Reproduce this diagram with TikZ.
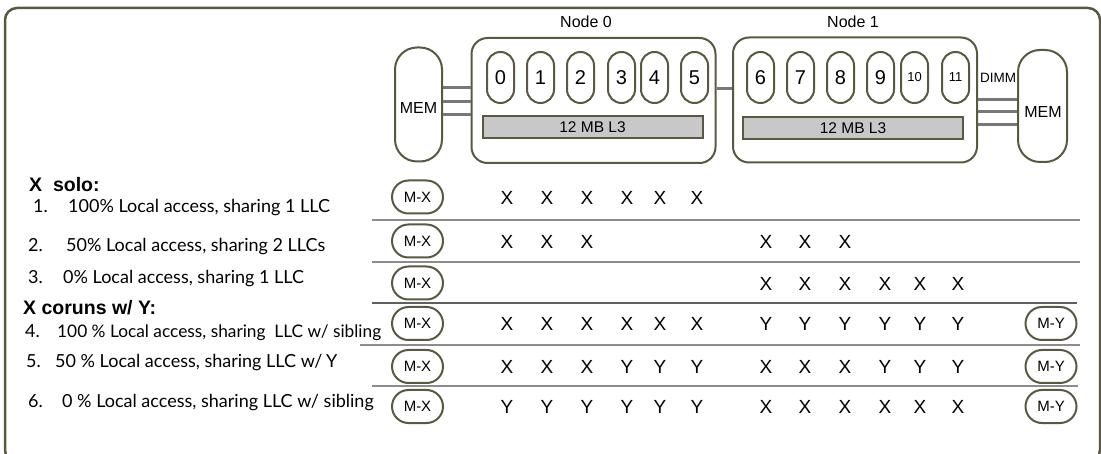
\documentclass[tikz,border=0pt]{standalone}
\usepackage{fontspec}
\setmainfont{Liberation Sans}
\newfontfamily\listfont{Lato}
\definecolor{frameol}{RGB}{90,88,66}
\definecolor{llcgray}{RGB}{200,200,200}
\definecolor{linkgray}{RGB}{120,120,120}
\definecolor{sepgray}{RGB}{140,140,140}
\definecolor{darksep}{RGB}{95,95,95}
\newcommand{\fsz}[1]{\fontsize{#1}{#1}\selectfont}
\tikzset{
  outline/.style={draw=frameol, line width=2pt},
  membox/.style={outline, rounded corners=22pt, minimum width=47pt, minimum height=114pt, inner sep=0pt},
  memtext/.style={inner sep=0pt, font=\fsz{16}},
  socket/.style={outline, rounded corners=16pt, minimum width=244pt, minimum height=125pt, inner sep=0pt},
  core/.style={outline, rounded corners=13.5pt, minimum width=27pt, minimum height=51pt, inner sep=0pt, font=\fsz{20}},
  smallcore/.style={core, font=\fsz{13}},
  llc/.style={draw=frameol, line width=2pt, fill=llcgray, minimum width=220pt, minimum height=22pt, inner sep=0pt, font=\fsz{15.5}},
  memlink/.style={draw=linkgray, line width=3pt},
  pill/.style={outline, rounded corners=16.5pt, minimum width=51pt, minimum height=33pt, inner sep=0pt, font=\fsz{15}},
  cell/.style={inner sep=0pt, font=\fsz{19}},
  rowsep/.style={draw=sepgray, line width=1.5pt},
  groupsep/.style={draw=darksep, line width=2.5pt},
  itemtext/.style={anchor=base west, inner sep=0pt, font=\listfont\fsz{18}},
  heading/.style={anchor=base west, inner sep=0pt, font=\bfseries\fsz{19.5}},
}
\begin{document}
\begin{tikzpicture}[x=1pt,y=-1pt]
\useasboundingbox (0,0) rectangle (1101,454);
% outer frame
\draw[draw=frameol, line width=2.5pt, rounded corners=12pt] (5,8) rectangle (1100,462);

% two sockets with their cores and shared L3
\node at (586,22) (lab0) {\fsz{16}Node 0};
\node at (853,22) (lab1) {\fsz{16}Node 1};
\node[socket] (n0) at (593.5,100.5) {};
\node[socket] (n1) at (855,100) {};
\foreach \x/\c in {500.5/0,540.5/1,580.5/2,621.5/3,654.5/4,694.5/5,760.5/6,800.5/7,840.5/8,880.5/9}
  \node[core] (core\c) at (\x,77.5) {\c};
\node[smallcore] (core10) at (914.5,77.5) {10};
\node[smallcore] (core11) at (955.5,77.5) {11};
\node[llc] (l3a) at (592.5,127.5) {12 MB L3};
\node[llc] (l3b) at (853,128.5) {12 MB L3};

% memories
\node[membox] (memL) at (418.5,104.5) {};
\node[memtext] (memLtext) at (418.5,108) {MEM};
\node[membox, minimum width=49pt, minimum height=112pt] (memR) at (1042.5,106) {};
\node[memtext] (memRtext) at (1043,112) {MEM};
\node[font=\fsz{13.5}] (dimm) at (998,78) {DIMM};

% memory channels and interconnect
\foreach \yy in {88,102,115}
  \draw[memlink] (memL.east |- 0,\yy) -- (n0.west |- 0,\yy);
\foreach \yy in {100,112,125}
  \draw[memlink] (n1.east |- 0,\yy) -- (memR.west |- 0,\yy);
\draw[memlink] (n0.east |- 0,89) -- (n1.west |- 0,89);

% scenario list
\node[heading] (hsolo) at (29,192) {X\ \ solo:};
\node[itemtext] (i1) at (33,213) {1.};
\node[itemtext] (t1) at (68,213) {100\% Local access, sharing 1 LLC};
\node[itemtext] (i2) at (28,252) {2.};
\node[itemtext] (t2) at (66,252) {50\% Local access, sharing 2 LLCs};
\node[itemtext] (i3) at (28,284) {3.};
\node[itemtext] (t3) at (63,284) {0\% Local access, sharing 1 LLC};
\node[heading] (hco) at (23,315) {X coruns w/ Y:};
\node[itemtext] (i4) at (25,338) {4.};
\node[itemtext, font=\listfont\fsz{17.3}] (t4) at (57,338) {100 \% Local access, sharing \ LLC w/ sibling};
\node[itemtext] (i5) at (26,367) {5.};
\node[itemtext] (t5) at (55,367) {50 \% Local access, sharing LLC w/\kern-1pt\ Y};
\node[itemtext] (i6) at (28,407) {6.};
\node[itemtext] (t6) at (62,407) {0 \% Local access, sharing LLC w/ sibling};

% row separators
\draw[rowsep] (372,220) -- (1080,220);
\draw[rowsep] (372,262) -- (1080,262);
\draw[groupsep] (372,303) -- (1077,303);
\draw[rowsep] (360,345) -- (1080,345);
\draw[rowsep] (372,386) -- (1078,386);

% memory placement of X and Y
\foreach \r/\yy in {1/197,2/241,3/283,4/323.5,5/366.5,6/406.5}
  \node[pill] (mx\r) at (417.5,\yy) {M-X};
\foreach \r/\yy in {4/323.5,5/366.5,6/406.5}
  \node[pill] (my\r) at (1051,\yy) {M-Y};

% thread placement on cores
\foreach \x/\t [count=\i] in {507/X,547/X,587/X,627/X,660/X,697/X}
  \node[cell] (ra\i) at (\x,198) {\t};
\foreach \x/\t [count=\i] in {507/X,547/X,587/X,766/X,805/X,845/X}
  \node[cell] (rb\i) at (\x,242) {\t};
\foreach \x/\t [count=\i] in {766/X,805/X,845/X,885/X,920/X,958/X}
  \node[cell] (rc\i) at (\x,284) {\t};
\foreach \x/\t [count=\i] in {507/X,547/X,587/X,627/X,660/X,697/X,766/Y,805/Y,845/Y,885/Y,920/Y,958/Y}
  \node[cell] (rd\i) at (\x,324) {\t};
\foreach \x/\t [count=\i] in {507/X,547/X,587/X,627/Y,660/Y,697/Y,766/X,805/X,845/X,885/Y,920/Y,958/Y}
  \node[cell] (re\i) at (\x,367) {\t};
\foreach \x/\t [count=\i] in {507/Y,547/Y,587/Y,627/Y,660/Y,697/Y,766/X,805/X,845/X,885/X,920/X,958/X}
  \node[cell] (rf\i) at (\x,407) {\t};
\end{tikzpicture}
\end{document}
